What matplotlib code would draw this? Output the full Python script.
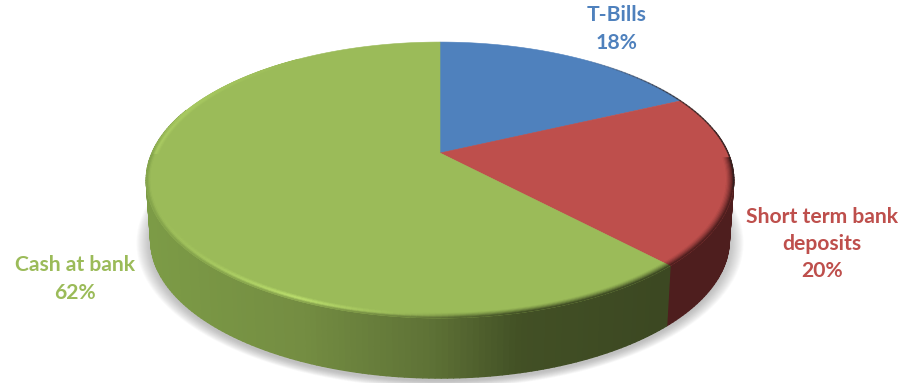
"""Money market allocation - pie with a raised rim, drawn in perspective."""
import matplotlib
matplotlib.use('Agg')
import matplotlib.pyplot as plt
from matplotlib.collections import PolyCollection
from matplotlib.patches import Polygon
import numpy as np

plt.rcParams['font.family'] = ['Lato', 'DejaVu Sans']

categories = ['T-Bills', 'Short term bank\ndeposits', 'Cash at bank']
shares = [18, 20, 62]
colors = ['#4F81BD', '#BE4F4C', '#9BBB59']

# pixel layout of the disc
CX, CY = 440, 153
AX, BY, K = 288, 132.7, 0.196
DEPTH, TAPER = 60, 0.985


def project(theta, r=1.0, drop=0.0):
    """theta in degrees, clockwise from the top of the disc."""
    t = np.radians(theta)
    u, v = r * np.sin(t), -r * np.cos(t)
    w = 1 - K * v
    scale = 1 - (1 - TAPER) * drop / DEPTH
    return CX + scale * AX * u / w, CY + BY * v / w + drop


def mix(a, b, f):
    return np.asarray(a) * (1 - f) + np.asarray(b) * f


def ramp(x, x0, x1):
    return np.clip((x - x0) / (x1 - x0), 0, 1)


GREEN_STOPS_X = [150, 300, 430, 520, 660]
GREEN_STOPS_C = np.array([[124, 155, 70], [116, 141, 66], [94, 114, 54],
                          [66, 80, 37], [60, 72, 34]]) / 255
RED_SIDE = np.array([78, 30, 30]) / 255
GREEN_TOP = np.array(matplotlib.colors.to_rgb(colors[2]))
RED_TOP = np.array(matplotlib.colors.to_rgb(colors[1]))
HILITE = np.array([192, 228, 112]) / 255


def side_color(i, x):
    if i == 1:
        return RED_SIDE
    return np.array([np.interp(x, GREEN_STOPS_X, GREEN_STOPS_C[:, c]) for c in range(3)])


fig = plt.figure(figsize=(9.17, 3.83), dpi=100)
ax = fig.add_axes([0, 0, 1, 1])
ax.set_xlim(0, 917)
ax.set_ylim(383, 0)
ax.axis('off')

edges = np.concatenate([[0], np.cumsum(shares)]) / sum(shares) * 360

# soft drop shadow under the disc
ring = np.arange(0, 360, 2.0)
shadow_y = CY + 27 + DEPTH + 3
for grow in np.linspace(1.05, 1.0, 16):
    xs, ys = project(ring, 1.0, DEPTH + 3)
    xs = CX + (xs - CX) * grow
    ys = shadow_y + (ys - shadow_y) * grow
    ax.add_patch(Polygon(np.c_[xs, ys], fc='#707070', ec='none', alpha=0.03, zorder=1))

# outer wall, only the part facing the viewer
for i in (1, 2):
    start, stop = max(edges[i], 80), min(edges[i + 1], 290)
    th = np.arange(start, stop + 1, 1.0)
    th[-1] = stop
    quads, cols = [], []
    for a, b in zip(th[:-1], th[1:]):
        x0, y0 = project(a)
        x1, y1 = project(b)
        x2, y2 = project(b, 1.0, DEPTH)
        x3, y3 = project(a, 1.0, DEPTH)
        quads.append([(x0, y0), (x1, y1), (x2, y2), (x3, y3)])
        cols.append(side_color(i, (x0 + x1) / 2))
    ax.add_collection(PolyCollection(quads, facecolors=cols, edgecolors=cols,
                                     linewidths=1.0, zorder=2))

# top face
for i, col in enumerate(colors):
    th = np.linspace(edges[i], edges[i + 1], 200)
    xs, ys = project(th)
    ax.add_patch(Polygon(np.c_[np.r_[CX, xs], np.r_[CY, ys]], fc=col, ec=col, lw=0.4, zorder=3))

# bevel where the face rolls over into the wall
radii = np.linspace(0.972, 1.0, 8)
for i, top in ((1, RED_TOP), (2, GREEN_TOP)):
    start, stop = max(edges[i], 92), min(edges[i + 1], 325)
    th = np.arange(start, stop + 1, 1.0)
    th[-1] = stop
    quads, cols = [], []
    for a, b in zip(th[:-1], th[1:]):
        mid = (a + b) / 2
        xm = project(mid)[0]
        wall = side_color(i, xm)
        lit = 0.0
        if i == 2:
            lit = 1 - ramp(xm, 300, 460)
        bright = ramp(xm, 150, 290) if mid <= 270 else 0.45 * (1 - ramp(mid, 280, 325))
        peak = mix(top, HILITE, bright)
        fade = ramp(mid, 270, 290)
        for j, (r0, r1) in enumerate(zip(radii[:-1], radii[1:])):
            f = j / (len(radii) - 2)
            shaded = mix(top, wall, f ** 1.4)
            if f < 0.6:
                glossy = mix(top, peak, f / 0.6)
            else:
                glossy = mix(peak, wall, (f - 0.6) / 0.4 * 0.7 * (1 - fade))
            c = mix(shaded, glossy, lit)
            p = [project(a, r0), project(b, r0), project(b, r1), project(a, r1)]
            quads.append(p)
            cols.append(c)
    ax.add_collection(PolyCollection(quads, facecolors=cols, edgecolors=cols,
                                     linewidths=0.4, zorder=4))

# thin dark edge along the far right of the face
th = np.linspace(35, 105, 60)
xs, ys = project(th)
for a, b, xa, xb, ya, yb in zip(th[:-1], th[1:], xs[:-1], xs[1:], ys[:-1], ys[1:]):
    ax.plot([xa, xb], [ya, yb], color='#2a2020', lw=1.0,
            alpha=0.75 * ramp((a + b) / 2, 35, 70), solid_capstyle='round', zorder=5)

label_pos = [(617, 29), (822, 244), (75, 279)]
for name, val, col, (lx, ly) in zip(categories, shares, colors, label_pos):
    ax.text(lx, ly, f'{name}\n{val}%', color=col, fontsize=15.2, fontweight='bold',
            ha='center', va='center', linespacing=1.45, zorder=6)

fig.savefig('out.png', dpi=100)
